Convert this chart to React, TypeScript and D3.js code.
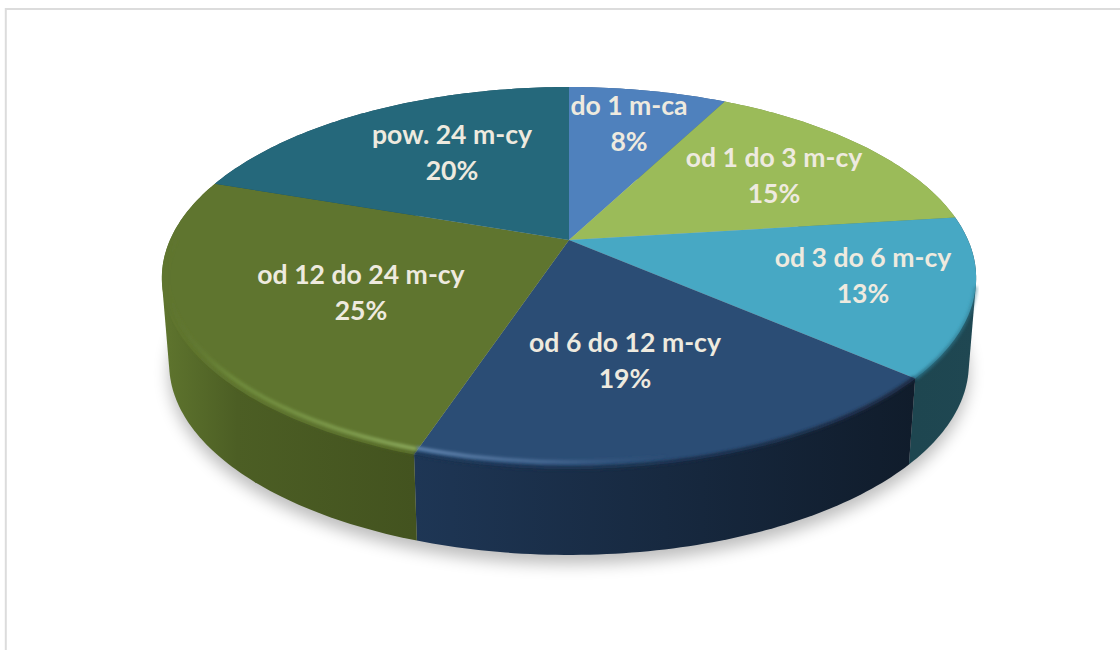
import React from "react";
import * as d3 from "d3";

const categories = ["do 1 m-ca", "od 1 do 3 m-cy", "od 3 do 6 m-cy", "od 6 do 12 m-cy", "od 12 do 24 m-cy", "pow. 24 m-cy"];
const values = [7.6, 15.4, 13.4, 18.7, 25.2, 19.7];
const topColors = ["#4f81bd", "#9bbb59", "#47a8c4", "#2b4d75", "#5f752f", "#25687b"];
const sideStops = [
  ["#3a5f8c", "#3a5f8c"],
  ["#748c42", "#748c42"],
  ["#1e4650", "#1f4752"],
  ["#1e3655", "#101c2b"],
  ["#5f752e", "#43531f"],
  ["#1c4d5b", "#1c4d5b"],
];
const labelCentres: [number, number][] = [
  [629, 106], [774, 158], [863, 258], [625, 343], [361, 275], [452, 135],
];

const W = 1120, H = 650;
const CX = 569, CY = 240, RX = 399, RY = 183.4, K = 0.199;
const DEPTH = 86, SHRINK = 0.982;
const deg = (d: number) => (d * Math.PI) / 180;

const top = (t: number): [number, number] => {
  const u = Math.sin(t), v = -Math.cos(t), d = 1 - K * v;
  return [CX + (RX * u) / d, CY + (RY * v) / d];
};
const inset = (t: number, by: number): [number, number] => {
  const [x, y] = top(t);
  return [CX + (x - CX) * (1 - by / RX), y - by * Math.max(0, -Math.cos(t))];
};
const bottom = (t: number): [number, number] => {
  const [x, y] = top(t);
  return [CX + (x - CX) * SHRINK, y + DEPTH];
};
const samples = (a: number, b: number) => {
  const n = Math.max(2, Math.ceil(((b - a) * 180) / Math.PI));
  return d3.range(n + 1).map((i) => a + ((b - a) * i) / n);
};
const line = d3.line<[number, number]>();

const arcs = d3.pie<number>().sort(null).startAngle(0).endAngle(2 * Math.PI)(values);

// bevel runs along the rim: angle span, inset from the edge, colour stops along x
const rimRuns: { a: number; b: number; by: number; w: number; stops: [number, string, number][] }[] = [
  { a: deg(104), b: arcs[2].endAngle, by: 0, w: 4, stops: [[0, "#2a6e84", 0.9], [1, "#2f7b90", 0.5]] },
  { a: arcs[3].startAngle, b: arcs[3].endAngle, by: 1, w: 4, stops: [[0, "#1b3150", 0.9], [1, "#14243a", 0.9]] },
  { a: arcs[4].startAngle, b: deg(262), by: 1, w: 3, stops: [[0, "#5f752f", 0], [1, "#4c5e24", 0.55]] },
  { a: deg(168), b: arcs[3].endAngle, by: 7, w: 3.5, stops: [[0, "#6488b2", 1], [0.5, "#4f719c", 0.8], [1, "#3a5a84", 0]] },
  { a: arcs[4].startAngle, b: deg(270), by: 6, w: 4, stops: [[0, "#5f752f", 0], [0.25, "#6d893a", 1], [0.7, "#7d9a4c", 1], [1, "#8aa85c", 1]] },
];

export default function App() {
  const full = samples(0, 2 * Math.PI);
  return (
    <svg width={W} height={H} style={{ position: "absolute", left: 0, top: 0, display: "block" }} fontFamily="Lato, Carlito, sans-serif">
      <defs>
        <filter id="shadow" x="-10%" y="-10%" width="120%" height="125%">
          <feGaussianBlur stdDeviation="8" />
        </filter>
        <filter id="rimBlur" x="-5%" y="-30%" width="110%" height="160%">
          <feGaussianBlur stdDeviation="1.8" />
        </filter>
        {arcs.map((a, i) => {
          const xs = samples(a.startAngle, a.endAngle).map((t) => top(t)[0]);
          return (
            <linearGradient key={i} id={`side${i}`} gradientUnits="userSpaceOnUse" x1={d3.min(xs)!} x2={d3.max(xs)!} y1={0} y2={0}>
              <stop offset="0" stopColor={sideStops[i][0]} />
              {i === 4 && <stop offset="0.3" stopColor="#4c5e24" />}
              <stop offset="1" stopColor={sideStops[i][1]} />
            </linearGradient>
          );
        })}
        {rimRuns.map((r, i) => {
          const xs = samples(r.a, r.b).map((t) => inset(t, r.by)[0]);
          return (
            <linearGradient key={i} id={`rim${i}`} gradientUnits="userSpaceOnUse" x1={d3.min(xs)!} x2={d3.max(xs)!} y1={0} y2={0}>
              {r.stops.map(([o, c, op], j) => (
                <stop key={j} offset={o} stopColor={c} stopOpacity={op} />
              ))}
            </linearGradient>
          );
        })}
      </defs>
      <rect width={W} height={H} fill="#ffffff" />
      <path d={`M5.8 ${H}V9H${W}`} fill="none" stroke="#dcdcdc" strokeWidth={2} />

      <path
        d={line(full.map((t) => { const [x, y] = bottom(t); return [x, y + 9] as [number, number]; }))! + "Z"}
        fill="#000"
        opacity={0.26}
        filter="url(#shadow)"
      />

      {arcs.map((a, i) => {
        const ts = samples(a.startAngle, a.endAngle);
        const hull = d3.polygonHull([...ts.map(top), ...ts.map(bottom)])!;
        return <path key={i} d={line(hull)! + "Z"} fill={`url(#side${i})`} />;
      })}

      {arcs.map((a, i) => {
        const pts: [number, number][] = [[CX, CY], ...samples(a.startAngle, a.endAngle).map(top)];
        return <path key={i} d={line(pts)! + "Z"} fill={topColors[i]} />;
      })}

      {rimRuns.map((r, i) => (
        <path
          key={i}
          d={line(samples(r.a, r.b).map((t) => inset(t, r.by)))!}
          fill="none"
          stroke={`url(#rim${i})`}
          strokeWidth={r.w}
          filter="url(#rimBlur)"
        />
      ))}

      {categories.map((c, i) => (
        <text key={c} textAnchor="middle" fontWeight={700} fontSize={26.6} fill="#eeeadf">
          <tspan x={labelCentres[i][0]} y={labelCentres[i][1] + 9}>{c}</tspan>
          <tspan x={labelCentres[i][0]} y={labelCentres[i][1] + 45}>{Math.round(values[i])}%</tspan>
        </text>
      ))}
    </svg>
  );
}
